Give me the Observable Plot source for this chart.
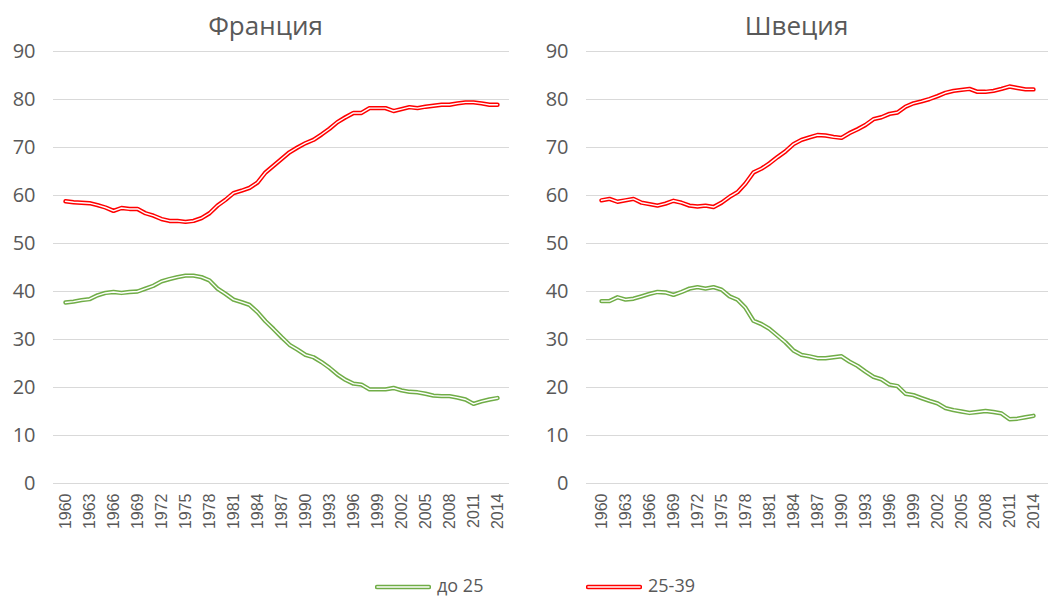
<!DOCTYPE html>
<html>
<head>
<meta charset="utf-8">
<script src="https://cdn.jsdelivr.net/npm/d3@7"></script>
<script src="https://cdn.jsdelivr.net/npm/@observablehq/plot@0.6"></script>
<style>
  body { margin: 0; background: #fff; font-family: "Open Sans", sans-serif; }
  #wrap { width: 1062px; height: 598px; position: relative; }
  #panels { display: flex; }
  .panel { width: 531px; position: relative; }
  .title { position: absolute; top: 9px; left: 0; width: 531px; text-align: center; font-size: 26px; line-height: 32px; color: #595959; }
  #legend { position: absolute; top: 573px; left: 0; width: 1062px; height: 24px; font-size: 18px; line-height: 24px; color: #595959; }
  .leg { position: absolute; display: flex; align-items: center; height: 24px; }
  .leg svg { margin-right: 6px; margin-top: 3px; }
</style>
</head>
<body>
<div id="wrap">
  <div id="panels">
    <div class="panel" id="p0"><div class="title">Франция</div></div>
    <div class="panel" id="p1"><div class="title">Швеция</div></div>
  </div>
  <div id="legend"></div>
</div>
<script>
const years = d3.range(1960, 2015);
const tickYears = d3.range(1960, 2015, 3);
const yTicks = [0, 10, 20, 30, 40, 50, 60, 70, 80, 90];
const countries = ["Франция", "Швеция"];
const seriesNames = ["до 25", "25-39"];

const franceUnder25 = [37.7,37.9,38.2,38.4,39.2,39.7,39.9,39.7,39.9,40.0,40.6,41.2,42.1,42.6,43.0,43.3,43.3,43.0,42.3,40.6,39.5,38.3,37.8,37.2,35.7,33.8,32.2,30.5,28.9,27.9,26.8,26.3,25.3,24.1,22.7,21.6,20.8,20.6,19.6,19.6,19.6,19.9,19.4,19.1,19.0,18.7,18.3,18.2,18.2,17.9,17.5,16.6,17.1,17.5,17.8];
const france25to39 = [58.8,58.6,58.5,58.4,58.0,57.5,56.8,57.4,57.2,57.2,56.3,55.8,55.1,54.7,54.7,54.5,54.7,55.3,56.3,57.9,59.1,60.5,61.0,61.6,62.7,64.8,66.2,67.6,69.0,70.0,70.9,71.6,72.7,73.9,75.3,76.3,77.2,77.2,78.2,78.2,78.2,77.6,78.0,78.4,78.2,78.5,78.7,78.9,78.9,79.2,79.4,79.4,79.2,78.9,78.9];
const swedenUnder25 = [38.0,38.0,38.8,38.3,38.5,39.0,39.5,39.9,39.8,39.3,39.9,40.6,40.9,40.6,40.9,40.4,39.0,38.3,36.6,33.9,33.2,32.2,30.8,29.4,27.7,26.8,26.5,26.1,26.1,26.3,26.5,25.4,24.5,23.3,22.2,21.7,20.6,20.3,18.7,18.4,17.8,17.2,16.7,15.7,15.3,15.0,14.7,14.9,15.1,14.9,14.6,13.4,13.5,13.8,14.1];
const sweden25to39 = [59.0,59.3,58.7,59.0,59.3,58.5,58.2,57.9,58.3,58.9,58.5,57.9,57.7,57.9,57.6,58.5,59.7,60.7,62.5,64.8,65.6,66.7,68.0,69.2,70.7,71.6,72.1,72.6,72.5,72.2,72.0,73.0,73.8,74.7,75.9,76.3,77.0,77.3,78.5,79.2,79.6,80.1,80.7,81.4,81.8,82.0,82.2,81.6,81.6,81.8,82.2,82.7,82.4,82.1,82.1];

const colors = {"до 25": "#70AD47", "25-39": "#FF0000"};
const inner = {"до 25": "#ffffff", "25-39": "#ffffff"};

function rows(a, b) {
  const out = [];
  years.forEach((y, i) => {
    out.push({year: y, series: seriesNames[0], value: a[i]});
  });
  years.forEach((y, i) => {
    out.push({year: y, series: seriesNames[1], value: b[i]});
  });
  return out;
}

const panels = [
  {id: "p0", data: rows(franceUnder25, france25to39), ml: 53, mr: 22},
  {id: "p1", data: rows(swedenUnder25, sweden25to39), ml: 55, mr: 14}
];

panels.forEach(p => {
  const chart = Plot.plot({
    width: 531,
    height: 560,
    marginLeft: p.ml,
    marginRight: p.mr,
    marginTop: 51,
    marginBottom: 77,
    style: {fontFamily: "Open Sans, sans-serif", color: "#595959", background: "transparent"},
    x: {type: "point", domain: years, padding: 0.5},
    y: {domain: [0, 90]},
    marks: [
      Plot.ruleY(yTicks, {stroke: "#D9D9D9", strokeWidth: 1}),
      Plot.axisY({ticks: yTicks, tickSize: 0, tickPadding: 18, fontSize: 20, label: null, fill: "#595959"}),
      Plot.axisX({ticks: tickYears, tickSize: 0, tickPadding: 10, tickRotate: -90, fontSize: 16, label: null, fill: "#595959", fontFamily: "Liberation Sans, Arial, sans-serif", tickFormat: d => String(d)}),
      Plot.line(p.data, {x: "year", y: "value", z: "series", stroke: d => colors[d.series], strokeWidth: 4.4, curve: "linear"}),
      Plot.line(p.data, {x: "year", y: "value", z: "series", stroke: d => inner[d.series], strokeWidth: 1.4, curve: "linear"})
    ]
  });
  chart.style.display = "block";
  document.getElementById(p.id).appendChild(chart);
});

const legend = document.getElementById("legend");
const legPos = [{x: 375}, {x: 586}];
seriesNames.forEach((s, i) => {
  const el = document.createElement("div");
  el.className = "leg";
  el.style.left = legPos[i].x + "px";
  el.innerHTML = `<svg width="56" height="10"><line x1="2" y1="5" x2="54" y2="5" stroke="${colors[s]}" stroke-width="4.4" stroke-linecap="round"/><line x1="2" y1="5" x2="54" y2="5" stroke="#fff" stroke-width="1.4" stroke-linecap="round"/></svg><span>${s}</span>`;
  legend.appendChild(el);
});
</script>
</body>
</html>
